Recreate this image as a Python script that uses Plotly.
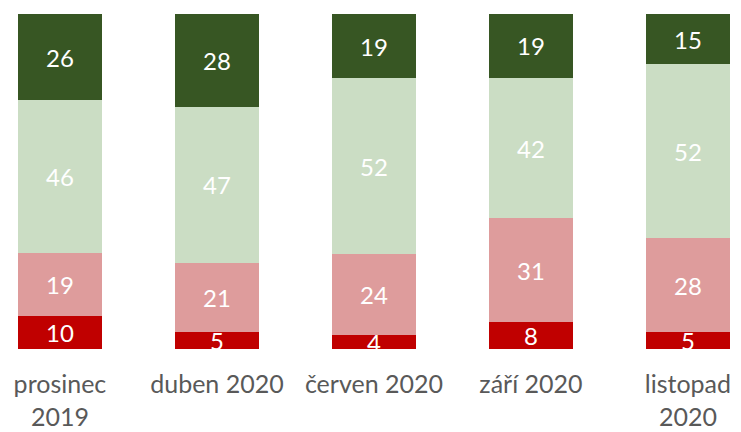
import plotly.graph_objects as go

categories = ["prosinec<br>2019", "duben 2020", "červen 2020", "září 2020", "listopad<br>2020"]
red_vals = [10, 5, 4, 8, 5]
pink_vals = [19, 21, 24, 31, 28]
lightgreen_vals = [46, 47, 52, 42, 52]
darkgreen_vals = [26, 28, 19, 19, 15]

series = [
    ("red", red_vals, "#C00000"),
    ("pink", pink_vals, "#DE9C9C"),
    ("lightgreen", lightgreen_vals, "#CBDDC4"),
    ("darkgreen", darkgreen_vals, "#375623"),
]

fig = go.Figure()
for name, vals, color in series:
    fig.add_trace(go.Bar(
        x=categories, y=vals, name=name,
        marker=dict(color=color, line=dict(width=0)),
        text=[str(v) for v in vals],
        textposition="inside", insidetextanchor="middle", textangle=0,
        textfont=dict(color="white", size=24, family="Lato"),
        cliponaxis=True,
    ))

fig.update_layout(
    barmode="stack", barnorm="percent", bargap=0.46,
    width=741, height=432,
    margin=dict(l=0, r=0, t=6, b=91),
    paper_bgcolor="white", plot_bgcolor="white",
    showlegend=False,
    uniformtext=dict(minsize=24, mode="show"),
    font=dict(family="Lato", size=25, color="#595959"),
    xaxis=dict(range=[-0.331, 4.389], showgrid=False, zeroline=False, showline=False,
               ticks="", ticklabelstandoff=18,
               tickfont=dict(size=25, color="#595959", family="Lato")),
    yaxis=dict(range=[0, 100], visible=False),
)

fig.write_html("out.html")
